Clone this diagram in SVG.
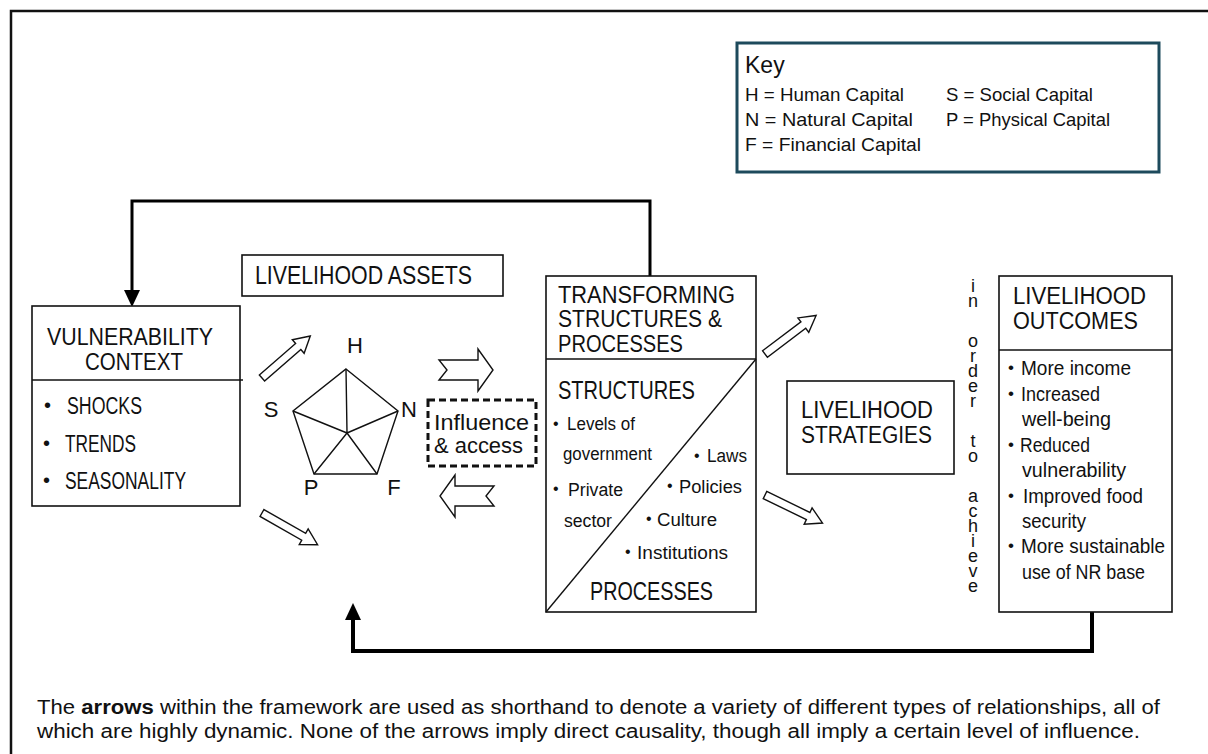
<svg xmlns="http://www.w3.org/2000/svg" width="1208" height="754" viewBox="0 0 1208 754">
<style>
.n{font-family:"Liberation Sans Narrow","Liberation Sans",Arial,sans-serif;fill:#111}
.r{font-family:"Liberation Sans",Arial,sans-serif;fill:#111}
.box{fill:#fff;stroke:#111;stroke-width:1.6}
.ln{stroke:#111;stroke-width:1.4;fill:none}
.ha{fill:#fff;stroke:#111;stroke-width:1.4;stroke-linejoin:miter}
.fb{fill:none;stroke:#000;stroke-linejoin:miter}
.vt{writing-mode:vertical-rl;text-orientation:upright}
</style>
<defs>
<path id="darr" d="M0,-4 H48 V-9 L64,0 L48,9 V4 H0 Z"/>
<path id="narr" d="M0,-10 H39 V-21 L54,0 L39,21 V10 H0 L8,0 Z"/>
</defs>
<rect width="1208" height="754" fill="#fff"/>
<g id="frame">
<polyline points="11,754 11,11 1208,11" fill="none" stroke="#111" stroke-width="2.5"/>
</g>
<g id="key">
<rect x="737" y="43" width="422" height="129" fill="#fff" stroke="#1d4a5c" stroke-width="3"/>
<text class="r" x="745" y="73" font-size="23">Key</text>
<text class="r" x="745" y="101" font-size="19" textLength="159" lengthAdjust="spacingAndGlyphs">H = Human Capital</text>
<text class="r" x="946" y="101" font-size="19" textLength="147" lengthAdjust="spacingAndGlyphs">S = Social Capital</text>
<text class="r" x="745" y="126" font-size="19" textLength="168" lengthAdjust="spacingAndGlyphs">N = Natural Capital</text>
<text class="r" x="946" y="126" font-size="19" textLength="164" lengthAdjust="spacingAndGlyphs">P = Physical Capital</text>
<text class="r" x="745" y="151" font-size="19" textLength="176" lengthAdjust="spacingAndGlyphs">F = Financial Capital</text>
</g>
<g id="connectors">
<polyline class="fb" points="650,276 650,201 132,201 132,292" stroke-width="3"/>
<polygon points="124,290 140,290 132,307" fill="#000"/>
<polyline class="fb" points="1092,612 1092,651 353,651 353,618" stroke-width="4"/>
<polygon points="345,620 361,620 353,603" fill="#000"/>
<use href="#darr" class="ha" transform="translate(262,378) rotate(-41)"/>
<use href="#darr" class="ha" transform="translate(262,513) rotate(29.7)"/>
<use href="#darr" class="ha" transform="translate(765,354) rotate(-37)"/>
<use href="#darr" class="ha" transform="translate(765,495) rotate(26)"/>
<use href="#narr" class="ha" transform="translate(439,370)"/>
<use href="#narr" class="ha" transform="translate(494,496) scale(-1,1)"/>
</g>
<g id="vulnerability">
<rect class="box" x="32" y="306" width="208" height="200"/>
<line class="ln" x1="32" y1="380" x2="243" y2="380"/>
<text class="n" x="47" y="345" font-size="24" textLength="166" lengthAdjust="spacingAndGlyphs">VULNERABILITY</text>
<text class="n" x="85" y="370" font-size="24" textLength="98" lengthAdjust="spacingAndGlyphs">CONTEXT</text>
<text class="n" x="44" y="412" font-size="20">•</text>
<text class="n" x="67" y="414" font-size="23" textLength="75" lengthAdjust="spacingAndGlyphs">SHOCKS</text>
<text class="n" x="43" y="450" font-size="20">•</text>
<text class="n" x="65" y="452" font-size="23" textLength="71" lengthAdjust="spacingAndGlyphs">TRENDS</text>
<text class="n" x="43" y="487" font-size="20">•</text>
<text class="n" x="65" y="489" font-size="23" textLength="121" lengthAdjust="spacingAndGlyphs">SEASONALITY</text>
</g>
<g id="assets">
<rect class="box" x="242" y="255" width="261" height="41"/>
<text class="n" x="255" y="284" font-size="25" textLength="217" lengthAdjust="spacingAndGlyphs">LIVELIHOOD ASSETS</text>
</g>
<g id="pentagon">
<polygon class="ln" points="346,369 398,411 377,474 314,474 293,411"/>
<path class="ln" d="M347,433 L346,369 M347,433 L398,411 M347,433 L377,474 M347,433 L314,474 M347,433 L293,411"/>
<text class="n" x="355" y="353" font-size="22" text-anchor="middle">H</text>
<text class="n" x="271" y="417" font-size="22" text-anchor="middle">S</text>
<text class="n" x="409" y="417" font-size="22" text-anchor="middle">N</text>
<text class="n" x="311" y="495" font-size="22" text-anchor="middle">P</text>
<text class="n" x="394" y="495" font-size="22" text-anchor="middle">F</text>
</g>
<g id="influence">
<rect x="428" y="400" width="108" height="66" fill="none" stroke="#111" stroke-width="3" stroke-dasharray="7 4"/>
<text class="r" x="434" y="430" font-size="22" textLength="95" lengthAdjust="spacingAndGlyphs">Influence</text>
<text class="r" x="434" y="453" font-size="22" textLength="89" lengthAdjust="spacingAndGlyphs">&amp; access</text>
</g>
<g id="transforming">
<rect class="box" x="546" y="276" width="210" height="336"/>
<line class="ln" x1="546" y1="359" x2="756" y2="359"/>
<line class="ln" x1="546" y1="612" x2="756" y2="359"/>
<text class="n" x="558" y="303" font-size="23" textLength="177" lengthAdjust="spacingAndGlyphs">TRANSFORMING</text>
<text class="n" x="558" y="327" font-size="23" textLength="164" lengthAdjust="spacingAndGlyphs">STRUCTURES &amp;</text>
<text class="n" x="558" y="352" font-size="23" textLength="125" lengthAdjust="spacingAndGlyphs">PROCESSES</text>
<text class="n" x="558" y="399" font-size="25" textLength="137" lengthAdjust="spacingAndGlyphs">STRUCTURES</text>
<text class="n" x="553" y="429" font-size="16">•</text>
<text class="n" x="567" y="430" font-size="18" textLength="68" lengthAdjust="spacingAndGlyphs">Levels of</text>
<text class="n" x="563" y="460" font-size="18" textLength="89" lengthAdjust="spacingAndGlyphs">government</text>
<text class="n" x="694" y="461" font-size="16">•</text>
<text class="n" x="707" y="462" font-size="18" textLength="40" lengthAdjust="spacingAndGlyphs">Laws</text>
<text class="n" x="553" y="494" font-size="16">•</text>
<text class="n" x="568" y="496" font-size="18" textLength="55" lengthAdjust="spacingAndGlyphs">Private</text>
<text class="n" x="667" y="491" font-size="16">•</text>
<text class="n" x="679" y="493" font-size="18" textLength="63" lengthAdjust="spacingAndGlyphs">Policies</text>
<text class="n" x="564" y="527" font-size="18" textLength="48" lengthAdjust="spacingAndGlyphs">sector</text>
<text class="n" x="646" y="524" font-size="16">•</text>
<text class="n" x="657" y="526" font-size="18" textLength="60" lengthAdjust="spacingAndGlyphs">Culture</text>
<text class="n" x="625" y="557" font-size="16">•</text>
<text class="n" x="637" y="559" font-size="18" textLength="91" lengthAdjust="spacingAndGlyphs">Institutions</text>
<text class="n" x="590" y="600" font-size="26" textLength="123" lengthAdjust="spacingAndGlyphs">PROCESSES</text>
</g>
<g id="strategies">
<rect class="box" x="787" y="381" width="167" height="93"/>
<text class="n" x="801" y="418" font-size="23" textLength="132" lengthAdjust="spacingAndGlyphs">LIVELIHOOD</text>
<text class="n" x="801" y="443" font-size="23" textLength="131" lengthAdjust="spacingAndGlyphs">STRATEGIES</text>
</g>
<g id="in-order-to-achieve">
<text class="n vt" x="973" y="276" font-size="18" letter-spacing="-5" word-spacing="10">in order to achieve</text>
</g>
<g id="outcomes">
<rect class="box" x="999" y="276" width="173" height="336"/>
<line class="ln" x1="999" y1="350" x2="1172" y2="350"/>
<text class="n" x="1013" y="304" font-size="23" textLength="133" lengthAdjust="spacingAndGlyphs">LIVELIHOOD</text>
<text class="n" x="1013" y="329" font-size="23" textLength="125" lengthAdjust="spacingAndGlyphs">OUTCOMES</text>
<g font-size="20" class="n">
<text x="1008" y="373" font-size="17">•</text>
<text x="1021" y="375" textLength="110" lengthAdjust="spacingAndGlyphs">More income</text>
<text x="1008" y="399" font-size="17">•</text>
<text x="1021" y="401" textLength="79" lengthAdjust="spacingAndGlyphs">Increased</text>
<text x="1022" y="426" textLength="89" lengthAdjust="spacingAndGlyphs">well-being</text>
<text x="1008" y="450" font-size="17">•</text>
<text x="1020" y="452" textLength="70" lengthAdjust="spacingAndGlyphs">Reduced</text>
<text x="1022" y="477" textLength="104" lengthAdjust="spacingAndGlyphs">vulnerability</text>
<text x="1008" y="501" font-size="17">•</text>
<text x="1023" y="503" textLength="120" lengthAdjust="spacingAndGlyphs">Improved food</text>
<text x="1022" y="528" textLength="64" lengthAdjust="spacingAndGlyphs">security</text>
<text x="1008" y="551" font-size="17">•</text>
<text x="1021" y="553" textLength="144" lengthAdjust="spacingAndGlyphs">More sustainable</text>
<text x="1022" y="579" textLength="123" lengthAdjust="spacingAndGlyphs">use of NR base</text>
</g>
</g>
<g id="caption" class="r" font-size="20">
<text x="37" y="714" textLength="1123" lengthAdjust="spacingAndGlyphs">The <tspan font-weight="bold">arrows</tspan> within the framework are used as shorthand to denote a variety of different types of relationships, all of</text>
<text x="37" y="738" textLength="1103" lengthAdjust="spacingAndGlyphs">which are highly dynamic. None of the arrows imply direct causality, though all imply a certain level of influence.</text>
</g>
</svg>
